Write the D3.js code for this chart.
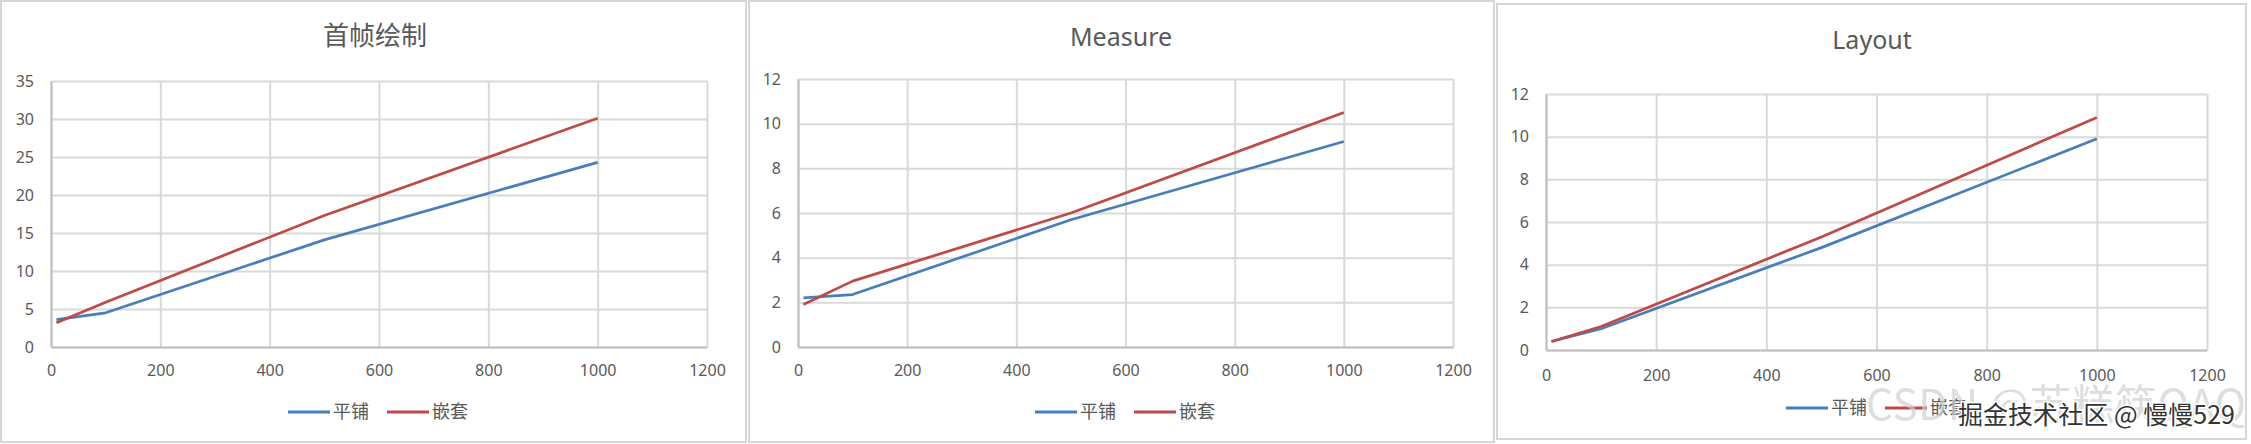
<!DOCTYPE html>
<html>
<head>
<meta charset="utf-8">
<script src="https://cdn.jsdelivr.net/npm/d3@7"></script>
<style>
  body { margin: 0; background: #fff; }
  svg { display: block; }
</style>
</head>
<body>
<div id="graphArea"></div>
<script>
// data
var xValues = [10, 100, 500, 1000]
var xTicks = [0, 200, 400, 600, 800, 1000, 1200]
var seriesNames = ["平铺", "嵌套"]

var firstPaintTile = [3.6, 4.5, 14.1, 24.3]
var firstPaintNested = [3.2, 5.9, 17.3, 30.1]
var firstPaintTicks = [0, 5, 10, 15, 20, 25, 30, 35]

var measureTile = [2.2, 2.35, 5.7, 9.2]
var measureNested = [1.9, 2.95, 6.0, 10.5]
var measureTicks = [0, 2, 4, 6, 8, 10, 12]

var layoutTile = [0.4, 1.0, 4.8, 9.9]
var layoutNested = [0.4, 1.1, 5.3, 10.9]
var layoutTicks = [0, 2, 4, 6, 8, 10, 12]

var colors = ["#4a7ebb", "#be4b48"]
var textColor = "#595959"
var tickFont = '"Noto Sans", sans-serif'
var cjkFont = '"Noto Sans CJK SC", "Noto Sans", sans-serif'

var width = 2251
var height = 444

var svg = d3.select("#graphArea")
  .append("svg")
    .attr("width", width)
    .attr("height", height)

// one entry per panel: box, plot area, title and legend spots
var panels = [
  {
    title: "首帧绘制", titleFont: cjkFont, titleSize: 26,
    tile: firstPaintTile, nested: firstPaintNested, yTicks: firstPaintTicks,
    box: [1, 1, 745, 441],
    plot: {left: 51, right: 707, top: 81, bottom: 347},
    titleX: 375, titleY: 36, xLabelY: 370, legendX: 288, legendY: 412
  },
  {
    title: "Measure", titleFont: tickFont, titleSize: 25,
    tile: measureTile, nested: measureNested, yTicks: measureTicks,
    box: [749, 1, 745, 441],
    plot: {left: 798, right: 1453, top: 79, bottom: 347},
    titleX: 1121, titleY: 37, xLabelY: 370, legendX: 1035, legendY: 412
  },
  {
    title: "Layout", titleFont: tickFont, titleSize: 25,
    tile: layoutTile, nested: layoutNested, yTicks: layoutTicks,
    box: [1497, 4, 749, 435],
    plot: {left: 1546, right: 2207, top: 94, bottom: 350},
    titleX: 1872, titleY: 40, xLabelY: 375, legendX: 1786, legendY: 408
  }
]

panels.forEach(function(p) { drawPanel(p) })

function drawPanel(p)
{
  var g = svg.append("g")

  g.append("rect")
    .attr("x", p.box[0])
    .attr("y", p.box[1])
    .attr("width", p.box[2])
    .attr("height", p.box[3])
    .attr("fill", "#fff")
    .attr("stroke", "#d6d6d6")
    .attr("stroke-width", 2)

  var x = d3.scaleLinear()
    .domain([0, 1200])
    .range([p.plot.left, p.plot.right])
  var yMax = p.yTicks[p.yTicks.length - 1]
  var y = d3.scaleLinear()
    .domain([0, yMax])
    .range([p.plot.bottom, p.plot.top])

  // gridlines
  g.append("g")
    .attr("transform", "translate(0," + p.plot.bottom + ")")
    .call(d3.axisBottom(x).tickValues(xTicks).tickSize(-(p.plot.bottom - p.plot.top)).tickFormat(""))
    .call(function(a) { a.select(".domain").remove() })
    .selectAll("line")
      .attr("stroke", "#d9d9d9")
      .attr("stroke-width", 2)

  g.append("g")
    .attr("transform", "translate(" + p.plot.left + ",0)")
    .call(d3.axisLeft(y).tickValues(p.yTicks).tickSize(-(p.plot.right - p.plot.left)).tickFormat(""))
    .call(function(a) { a.select(".domain").remove() })
    .selectAll("line")
      .attr("stroke", "#d9d9d9")
      .attr("stroke-width", 2)

  // axis lines + labels
  var xAxis = g.append("g")
    .attr("transform", "translate(0," + p.plot.bottom + ")")
    .call(d3.axisBottom(x).tickValues(xTicks).tickFormat(d3.format("d")).tickSize(0).tickPadding(0))
  xAxis.select(".domain").attr("stroke", "#bfbfbf").attr("stroke-width", 2)
  xAxis.selectAll("text")
    .attr("y", p.xLabelY - p.plot.bottom)
    .attr("dy", "0.35em")
    .style("font-family", tickFont)
    .style("font-size", "16px")
    .attr("fill", textColor)

  var yAxis = g.append("g")
    .attr("transform", "translate(" + p.plot.left + ",0)")
    .call(d3.axisLeft(y).tickValues(p.yTicks).tickFormat(d3.format("d")).tickSize(0).tickPadding(17))
  yAxis.select(".domain").attr("stroke", "#bfbfbf").attr("stroke-width", 2)
  yAxis.selectAll("text")
    .style("font-family", tickFont)
    .style("font-size", "16px")
    .attr("fill", textColor)

  // series lines
  var line = d3.line()
    .x(function(d) { return x(d[0]) })
    .y(function(d) { return y(d[1]) })

  var series = [p.tile, p.nested]
  series.forEach(function(vals, i) {
    g.append("path")
      .datum(xValues.map(function(v, j) { return [v, vals[j]] }))
      .attr("d", line)
      .attr("fill", "none")
      .attr("stroke", colors[i])
      .attr("stroke-width", 2.75)
      .attr("stroke-linejoin", "round")
  })

  // title
  g.append("text")
    .attr("x", p.titleX)
    .attr("y", p.titleY)
    .attr("dy", "0.35em")
    .attr("text-anchor", "middle")
    .style("font-family", p.titleFont)
    .style("font-size", p.titleSize + "px")
    .attr("fill", textColor)
    .text(p.title)

  // legend
  var lg = g.append("g")
    .attr("transform", "translate(" + p.legendX + "," + p.legendY + ")")
  seriesNames.forEach(function(name, i) {
    var off = i * 99
    lg.append("line")
      .attr("x1", off)
      .attr("x2", off + 42)
      .attr("y1", 0)
      .attr("y2", 0)
      .attr("stroke", colors[i])
      .attr("stroke-width", 3)
    lg.append("text")
      .attr("x", off + 45)
      .attr("y", 0)
      .attr("dy", "0.35em")
      .style("font-family", cjkFont)
      .style("font-size", "18px")
      .attr("fill", textColor)
      .text(name)
  })
}

// watermarks seen on the picture
svg.append("text")
  .attr("x", 1866)
  .attr("y", 420)
  .style("font-family", cjkFont)
  .style("font-size", "42px")
  .attr("fill", "#cfcfcf")
  .attr("fill-opacity", 0.7)
  .attr("textLength", 380)
  .text("CSDN @苏糕筷QAQ")

svg.append("text")
  .attr("x", 1958)
  .attr("y", 424)
  .style("font-family", cjkFont)
  .style("font-size", "25px")
  .attr("fill", "#333")
  .attr("stroke", "#fff")
  .attr("stroke-width", 3)
  .attr("paint-order", "stroke")
  .attr("textLength", 277)
  .text("掘金技术社区 @ 慢慢529")
</script>
</body>
</html>
